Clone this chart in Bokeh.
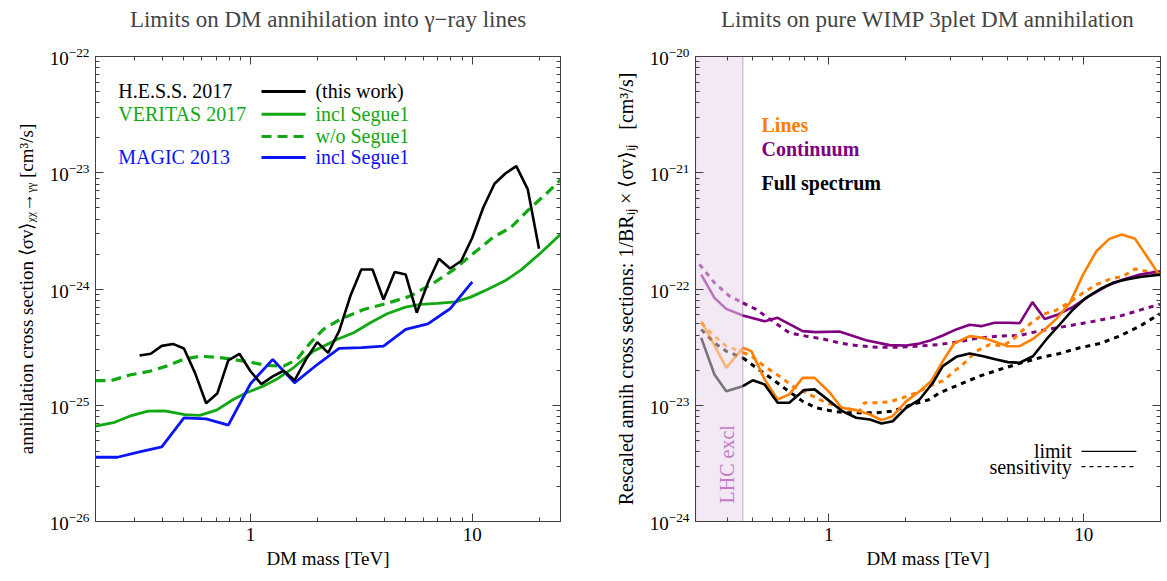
import math
from bokeh.plotting import figure
from bokeh.layouts import row
from bokeh.models import (FixedTicker, LogAxis, CustomJSTickFormatter, Label,
                          BoxAnnotation, LogTickFormatter, PrintfTickFormatter)
from bokeh.embed import file_html
from bokeh.resources import INLINE

SERIF = "Liberation Serif"

# ---------------- left panel data (DM mass in TeV, <sigma v> in cm^3/s) ----------------
hess_mass = [0.316, 0.355, 0.398, 0.447, 0.501, 0.562, 0.631, 0.708, 0.794, 0.891,
             1.0, 1.12, 1.26, 1.41, 1.58, 1.78, 2.0, 2.24, 2.51, 2.82,
             3.16, 3.55, 3.98, 4.47, 5.01, 5.62, 6.31, 7.08, 7.94, 8.91,
             10.0, 11.2, 12.6, 14.1, 15.8, 17.8, 20.0]
hess_sv = [2.68e-25, 2.77e-25, 3.24e-25, 3.37e-25, 3.08e-25, 1.90e-25, 1.04e-25, 1.26e-25, 2.43e-25, 2.77e-25,
           1.96e-25, 1.52e-25, 1.77e-25, 1.98e-25, 1.64e-25, 2.48e-25, 3.49e-25, 2.82e-25, 4.35e-25, 8.69e-25,
           1.47e-24, 1.47e-24, 8.13e-25, 1.40e-24, 1.33e-24, 6.25e-25, 1.13e-24, 1.82e-24, 1.50e-24, 1.74e-24,
           2.76e-24, 5.00e-24, 8.04e-24, 9.86e-24, 1.14e-23, 7.19e-24, 2.22e-24]

veritas_wo_mass = [0.2, 0.236, 0.285, 0.351, 0.418, 0.497, 0.59, 0.703, 0.836, 0.995,
                   1.18, 1.41, 1.62, 1.86, 2.13, 2.53, 3.24, 4.13, 5.26, 6.71,
                   8.26, 10.2, 12.5, 14.9, 18.0, 21.8, 25.0]
veritas_wo_sv = [1.63e-25, 1.63e-25, 1.82e-25, 1.96e-25, 2.17e-25, 2.48e-25, 2.64e-25, 2.59e-25, 2.48e-25, 2.35e-25,
                 2.20e-25, 2.17e-25, 2.48e-25, 3.44e-25, 4.49e-25, 5.47e-25, 6.67e-25, 7.52e-25, 8.69e-25, 1.13e-24,
                 1.47e-24, 2.05e-24, 2.81e-24, 3.37e-24, 4.84e-24, 6.73e-24, 8.7e-24]

veritas_incl_mass = [0.2, 0.244, 0.285, 0.345, 0.41, 0.505, 0.59, 0.703, 0.836, 0.96,
                     1.14, 1.31, 1.56, 1.92, 2.29, 2.45, 2.92, 3.47, 4.13, 5.0,
                     5.84, 6.95, 8.41, 9.83, 11.7, 14.2, 16.6, 20.4, 25.0]
veritas_incl_sv = [6.61e-26, 7.14e-26, 8.05e-26, 8.89e-26, 8.95e-26, 8.32e-26, 8.17e-26, 9.08e-26, 1.12e-25, 1.28e-25,
                   1.46e-25, 1.67e-25, 2.10e-25, 2.92e-25, 3.44e-25, 3.68e-25, 4.21e-25, 5.13e-25, 6.12e-25, 6.98e-25,
                   7.36e-25, 7.52e-25, 7.76e-25, 8.51e-25, 9.91e-25, 1.19e-24, 1.46e-24, 2.05e-24, 2.95e-24]

magic_mass = [0.2, 0.251, 0.316, 0.398, 0.501, 0.631, 0.794, 1.0, 1.26, 1.58,
              2.0, 2.51, 3.16, 3.98, 5.01, 6.31, 7.94, 10.0]
magic_sv = [3.57e-26, 3.57e-26, 3.97e-26, 4.39e-26, 7.80e-26, 7.64e-26, 6.75e-26, 1.53e-25, 2.48e-25, 1.56e-25,
            2.24e-25, 3.08e-25, 3.13e-25, 3.23e-25, 4.49e-25, 5.02e-25, 6.76e-25, 1.15e-24]

# ---------------- right panel data ----------------
LHC_EXCL_MASS = 0.46

cont_lim_mass = [0.316, 0.356, 0.396, 0.46, 0.56, 0.63, 0.79, 0.89, 1.10, 1.40,
                 1.73, 2.01, 2.27, 2.52, 2.80, 3.16, 3.57, 3.96, 4.47, 5.04,
                 5.61, 6.29, 7.03, 7.93, 9.08, 10.5, 12.3, 14.3, 16.6, 19.9]
cont_lim_sv = [1.33e-22, 8.39e-23, 6.75e-23, 5.92e-23, 5.28e-23, 5.65e-23, 4.34e-23, 4.26e-23, 4.31e-23, 3.63e-23,
               3.29e-23, 3.27e-23, 3.40e-23, 3.63e-23, 3.98e-23, 4.49e-23, 4.92e-23, 4.79e-23, 5.12e-23, 5.12e-23,
               5.08e-23, 7.71e-23, 5.53e-23, 6.04e-23, 7.03e-23, 8.67e-23, 1.06e-22, 1.21e-22, 1.33e-22, 1.42e-22]

cont_sens_mass = [0.311, 0.356, 0.408, 0.46, 0.519, 0.603, 0.70, 0.815, 0.948, 1.10,
                  1.28, 1.54, 1.84, 2.20, 2.72, 3.26, 3.90, 4.68, 5.61, 6.72,
                  8.05, 9.64, 11.6, 13.8, 16.6, 19.9]
cont_sens_sv = [1.63e-22, 1.13e-22, 8.67e-23, 7.60e-23, 6.67e-23, 5.28e-23, 4.20e-23, 3.93e-23, 3.72e-23, 3.44e-23,
                3.27e-23, 3.15e-23, 3.15e-23, 3.22e-23, 3.33e-23, 3.53e-23, 3.80e-23, 3.94e-23, 3.98e-23, 4.37e-23,
                4.68e-23, 5.01e-23, 5.40e-23, 5.83e-23, 6.58e-23, 7.41e-23]

lines_lim_mass = [0.316, 0.356, 0.396, 0.46, 0.497, 0.56, 0.63, 0.70, 0.79, 0.88,
                  1.01, 1.12, 1.28, 1.45, 1.61, 1.78, 2.01, 2.27, 2.52, 2.80,
                  3.10, 3.57, 4.03, 4.54, 5.04, 5.61, 6.32, 7.03, 7.81, 8.82,
                  9.94, 11.2, 12.6, 14.1, 15.9, 17.6, 19.9]
lines_lim_sv = [5.28e-23, 3.27e-23, 2.10e-23, 3.12e-23, 2.92e-23, 1.67e-23, 1.12e-23, 1.24e-23, 1.72e-23, 1.72e-23,
                1.28e-23, 9.51e-24, 9.08e-24, 8.32e-24, 7.45e-24, 8.05e-24, 1.08e-23, 1.32e-23, 1.61e-23, 2.39e-23,
                3.40e-23, 3.93e-23, 3.80e-23, 3.49e-23, 3.22e-23, 3.22e-23, 3.72e-23, 4.49e-23, 5.53e-23, 7.60e-23,
                1.33e-22, 2.11e-22, 2.70e-22, 2.94e-22, 2.70e-22, 1.94e-22, 1.29e-22]

lines_sens_mass = [0.316, 0.356, 0.396, 0.46, 0.497, 0.57, 0.64, 0.72, 0.815, 0.92,
                   1.04, 1.17, 1.32, 1.38, 1.54, 1.73, 1.95, 2.20, 2.48, 2.80,
                   3.10, 3.41, 3.79, 4.28, 4.82, 5.28, 5.61, 6.23, 6.92, 7.81,
                   8.82, 9.94, 11.2, 12.6, 14.3, 15.9, 17.6, 19.9]
lines_sens_sv = [5.12e-23, 3.93e-23, 3.22e-23, 2.85e-23, 2.64e-23, 2.10e-23, 1.78e-23, 1.46e-23, 1.28e-23, 1.12e-23,
                 1.00e-23, 9.38e-24, 8.89e-24, 1.05e-23, 1.05e-23, 1.07e-23, 1.16e-23, 1.28e-23, 1.46e-23, 1.62e-23,
                 1.95e-23, 2.32e-23, 2.92e-23, 3.33e-23, 3.24e-23, 3.67e-23, 4.20e-23, 5.12e-23, 6.04e-23, 6.58e-23,
                 7.71e-23, 9.27e-23, 1.09e-22, 1.21e-22, 1.29e-22, 1.49e-22, 1.42e-22, 1.38e-22]

full_lim_mass = [0.316, 0.356, 0.396, 0.46, 0.503, 0.56, 0.63, 0.70, 0.80, 0.88,
                 1.01, 1.13, 1.28, 1.45, 1.61, 1.78, 2.01, 2.27, 2.56, 2.80,
                 3.16, 3.57, 4.03, 4.54, 5.04, 5.61, 6.32, 7.13, 8.05, 9.08,
                 10.2, 11.6, 13.0, 14.7, 16.6, 19.9]
full_lim_sv = [3.80e-23, 1.84e-23, 1.32e-23, 1.46e-23, 1.64e-23, 1.51e-23, 1.05e-23, 1.05e-23, 1.35e-23, 1.37e-23,
               1.08e-23, 8.89e-24, 7.80e-24, 7.53e-24, 6.97e-24, 7.29e-24, 9.51e-24, 1.12e-23, 1.56e-23, 2.17e-23,
               2.61e-23, 2.79e-23, 2.64e-23, 2.48e-23, 2.35e-23, 2.32e-23, 2.64e-23, 3.68e-23, 4.95e-23, 6.67e-23,
               8.39e-23, 1.00e-22, 1.13e-22, 1.21e-22, 1.27e-22, 1.33e-22]

full_sens_mass = [0.316, 0.356, 0.396, 0.46, 0.519, 0.603, 0.68, 0.79, 0.89, 1.04,
                  1.17, 1.40, 1.54, 1.78, 2.07, 2.48, 2.72, 3.26, 3.90, 4.68,
                  5.61, 6.72, 8.05, 9.64, 11.6, 13.8, 16.6, 19.9]
full_sens_sv = [4.49e-23, 3.44e-23, 2.92e-23, 2.56e-23, 2.10e-23, 1.67e-23, 1.37e-23, 1.08e-23, 9.51e-24, 8.89e-24,
                8.61e-24, 8.61e-24, 8.61e-24, 8.89e-24, 9.95e-24, 1.12e-23, 1.28e-23, 1.51e-23, 1.78e-23, 2.03e-23,
                2.29e-23, 2.56e-23, 2.79e-23, 3.12e-23, 3.40e-23, 3.93e-23, 4.79e-23, 6.11e-23]

# ---------------- axis ticks ----------------
left_x_major = [1, 10]
left_x_minor = [0.2, 0.3, 0.4, 0.5, 0.6, 0.7, 0.8, 0.9, 2, 3, 4, 5, 6, 7, 8, 9, 20]
left_y_major = [1e-26, 1e-25, 1e-24, 1e-23, 1e-22]
left_y_minor = [m * d for d in [1e-26, 1e-25, 1e-24, 1e-23] for m in range(2, 10)]
right_x_major = [1, 10]
right_x_minor = [0.3, 0.4, 0.5, 0.6, 0.7, 0.8, 0.9, 2, 3, 4, 5, 6, 7, 8, 9, 20]
right_y_major = [1e-24, 1e-23, 1e-22, 1e-21, 1e-20]
right_y_minor = [m * d for d in [1e-24, 1e-23, 1e-22, 1e-21] for m in range(2, 10)]

LEFT_TITLE = "Limits on DM annihilation into \u03b3\u2212ray lines"
RIGHT_TITLE = "Limits on pure WIMP 3plet DM annihilation"

BLACK = "#000000"
GREEN = "#12a812"
BLUE = "#0a14f5"
ORANGE = "#ff8000"
PURPLE = "#800080"
AXIS = "#404040"


def frac_x(p_range, f):
    lo, hi = math.log10(p_range[0]), math.log10(p_range[1])
    return 10 ** (lo + f * (hi - lo))


def frac_y(p_range, f):
    lo, hi = math.log10(p_range[0]), math.log10(p_range[1])
    return 10 ** (lo + f * (hi - lo))


def style_axis(ax, label_px="19px", axis_label_px="19px"):
    ax.major_tick_in = 8
    ax.major_tick_out = 0
    ax.minor_tick_in = 4
    ax.minor_tick_out = 0
    ax.axis_line_color = AXIS
    ax.major_tick_line_color = AXIS
    ax.minor_tick_line_color = AXIS
    ax.major_label_text_font = SERIF
    ax.major_label_text_font_size = label_px
    ax.major_label_text_color = "black"
    ax.axis_label_text_font = SERIF
    ax.axis_label_text_font_size = axis_label_px
    ax.axis_label_text_font_style = "normal"
    ax.axis_label_text_color = "black"


def make_fig(xr, yr, width, bl, br, title, xmaj, xmin, ymaj, ymin, ylabel, ylabel_px):
    # the trailing empty line reserves space between the title and the frame
    p = figure(width=width, height=578, x_axis_type="log", y_axis_type="log",
               x_range=xr, y_range=yr, output_backend="svg", toolbar_location=None,
               min_border_left=bl, min_border_right=br, min_border_top=56, min_border_bottom=57,
               title=title + "\n")
    p.grid.visible = False
    p.outline_line_color = AXIS
    p.background_fill_color = "white"
    p.border_fill_color = "white"
    p.title.text_font = SERIF
    p.title.text_font_size = "23px"
    p.title.text_font_style = "normal"
    p.title.align = "center"
    p.title.standoff = 0
    xt = FixedTicker(ticks=xmaj, minor_ticks=xmin)
    yt = FixedTicker(ticks=ymaj, minor_ticks=ymin)
    p.xaxis.ticker = xt
    p.yaxis.ticker = yt
    p.xaxis.formatter = PrintfTickFormatter(format="%g")
    p.yaxis.formatter = LogTickFormatter()
    p.xaxis.axis_label = "DM mass [TeV]"
    p.yaxis.axis_label = ylabel
    for ax in p.xaxis:
        style_axis(ax, "19px", "19px")
    for ax in p.yaxis:
        style_axis(ax, "19px", ylabel_px)
    p.xaxis.major_label_standoff = 6
    p.xaxis.axis_label_standoff = 4
    p.yaxis.major_label_standoff = 6
    p.yaxis.axis_label_standoff = 10
    blank = "return ''"
    top = LogAxis(ticker=xt, formatter=CustomJSTickFormatter(code=blank))
    right = LogAxis(ticker=yt, formatter=CustomJSTickFormatter(code=blank))
    style_axis(top, "1px")
    style_axis(right, "1px")
    for ax in (top, right):
        ax.major_label_standoff = 0
        ax.axis_label_standoff = 0
    p.add_layout(top, "above")
    p.add_layout(right, "right")
    return p


# ================= left panel =================
LXR = (0.2, 25.0)
LYR = (1e-26, 1e-22)
p1 = make_fig(LXR, LYR, 585, 95, 25, LEFT_TITLE,
              left_x_major, left_x_minor, left_y_major, left_y_minor,
              "annihilation cross section \u27e8\u03c3v\u27e9\u1d6a\u1d6a\u2192\u1d67\u1d67 [cm\u00b3/s]", "19px")

p1.line(veritas_wo_mass, veritas_wo_sv, line_color=GREEN, line_width=3.2, line_dash="10 6")
p1.line(veritas_incl_mass, veritas_incl_sv, line_color=GREEN, line_width=2.8)
p1.line(magic_mass, magic_sv, line_color=BLUE, line_width=2.8)
p1.line(hess_mass, hess_sv, line_color=BLACK, line_width=2.6)

leg_rows = [("H.E.S.S. 2017", BLACK, "(this work)", BLACK, None, 0.925),
            ("VERITAS 2017", GREEN, "incl Segue1", GREEN, None, 0.876),
            ("", GREEN, "w/o Segue1", GREEN, "10 6", 0.828),
            ("MAGIC 2013", BLUE, "incl Segue1", BLUE, None, 0.783)]
for grp, gcol, item, icol, dash, fy in leg_rows:
    yv = frac_y(LYR, fy)
    if grp:
        p1.add_layout(Label(x=frac_x(LXR, 0.049), y=yv, text=grp, text_color=gcol,
                            text_font=SERIF, text_font_size="20px", text_baseline="middle"))
    p1.add_layout(Label(x=frac_x(LXR, 0.473), y=yv, text=item, text_color=icol,
                        text_font=SERIF, text_font_size="20px", text_baseline="middle"))
    kw = dict(line_color=icol, line_width=3)
    if dash:
        kw["line_dash"] = dash
    p1.line([frac_x(LXR, 0.357), frac_x(LXR, 0.452)], [yv, yv], **kw)

# ================= right panel =================
RXR = (0.3, 20.0)
RYR = (1e-24, 1e-20)
p2 = make_fig(RXR, RYR, 577, 110, 2, RIGHT_TITLE,
              right_x_major, right_x_minor, right_y_major, right_y_minor,
              "Rescaled annih cross sections: 1/BR\u1d62\u2c7c \u00d7 \u27e8\u03c3v\u27e9\u1d62\u2c7c\u2002\u00a0[cm\u00b3/s]", "20px")

p2.add_layout(BoxAnnotation(right=LHC_EXCL_MASS, fill_color="#f3e9f4", fill_alpha=1.0,
                            line_color=PURPLE, line_width=1.2, level="underlay"))


def split_draw(p, mass, sv, color, dash, width=2.6):
    inside = [(m, v) for m, v in zip(mass, sv) if m <= LHC_EXCL_MASS]
    outside = [(m, v) for m, v in zip(mass, sv) if m >= LHC_EXCL_MASS]
    kw = dict(line_color=color, line_width=width)
    if dash:
        kw["line_dash"] = dash
    p.line([a for a, _ in inside], [b for _, b in inside], line_alpha=0.5, **kw)
    p.line([a for a, _ in outside], [b for _, b in outside], **kw)


split_draw(p2, cont_sens_mass, cont_sens_sv, PURPLE, "5 5", 3.0)
split_draw(p2, full_sens_mass, full_sens_sv, BLACK, "5 5", 3.0)
split_draw(p2, lines_sens_mass, lines_sens_sv, ORANGE, "5 5", 3.0)
split_draw(p2, cont_lim_mass, cont_lim_sv, PURPLE, None)
split_draw(p2, lines_lim_mass, lines_lim_sv, ORANGE, None)
split_draw(p2, full_lim_mass, full_lim_sv, BLACK, None)

for txt, col, fy in [("Lines", ORANGE, 0.852), ("Continuum", PURPLE, 0.802), ("Full spectrum", BLACK, 0.727)]:
    p2.add_layout(Label(x=frac_x(RXR, 0.142), y=frac_y(RYR, fy), text=txt, text_color=col, text_font=SERIF,
                        text_font_size="20px", text_font_style="bold", text_baseline="middle"))

for txt, dash, fy in [("limit", None, 0.151), ("sensitivity", "4 4", 0.118)]:
    yv = frac_y(RYR, fy)
    p2.add_layout(Label(x=frac_x(RXR, 0.809), y=yv, text=txt, text_color="black", text_font=SERIF,
                        text_font_size="20px", text_align="right", text_baseline="middle"))
    kw = dict(line_color="black", line_width=1.3)
    if dash:
        kw["line_dash"] = dash
    p2.line([frac_x(RXR, 0.830), frac_x(RXR, 0.948)], [yv, yv], **kw)

p2.add_layout(Label(x=frac_x(RXR, 0.067), y=frac_y(RYR, 0.123), text="LHC excl", text_color="#c47ac4",
                    text_font=SERIF, text_font_size="20px", angle=math.pi / 2,
                    text_align="center", text_baseline="middle"))

layout = row(p1, p2)
open("out.html", "w").write(file_html(layout, INLINE))
